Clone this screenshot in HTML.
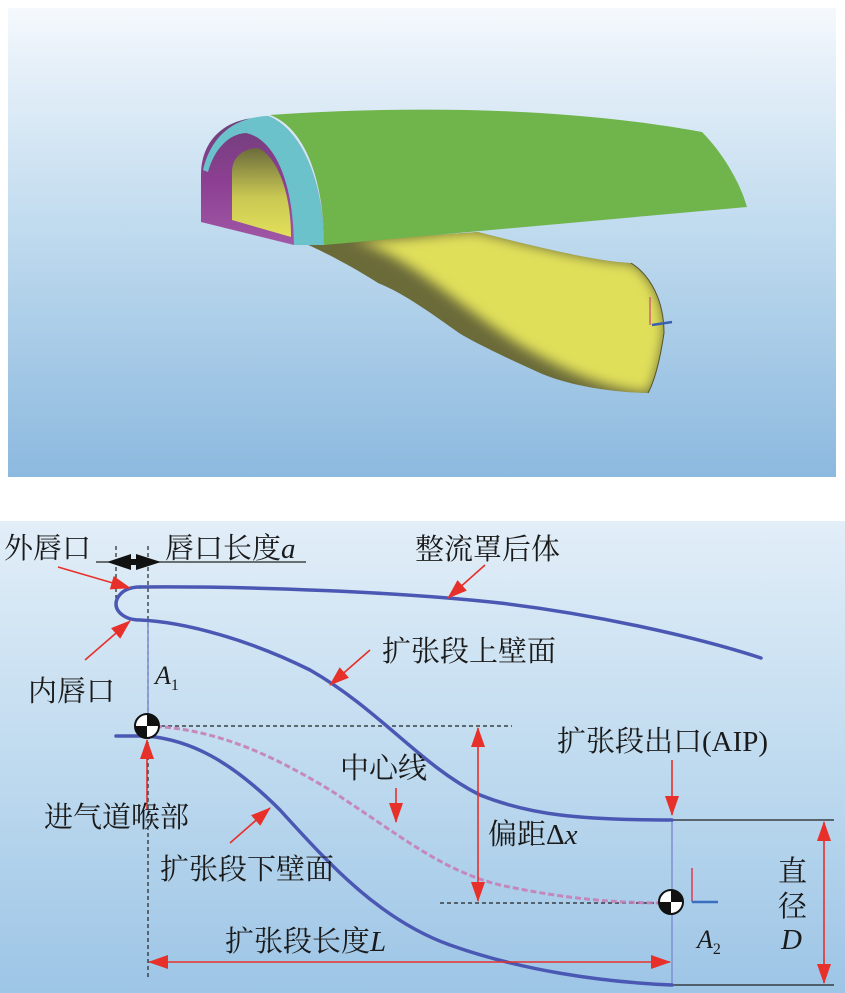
<!DOCTYPE html>
<html><head><meta charset="utf-8"><style>
html,body{margin:0;padding:0;background:#fff;}
svg{display:block;}
.t{font-family:"Liberation Serif","Noto Serif CJK SC",serif;font-size:29px;fill:#1a1a1a;}
.i{font-family:"Liberation Serif",serif;font-style:italic;fill:#1a1a1a;}
</style></head><body>
<svg width="845" height="993" viewBox="0 0 845 993" xmlns="http://www.w3.org/2000/svg">
<defs>
<linearGradient id="bg1" x1="0" y1="0" x2="0" y2="1">
<stop offset="0" stop-color="#f5f9fd"/><stop offset="0.12" stop-color="#e6f0f9"/>
<stop offset="0.45" stop-color="#c2dcef"/><stop offset="1" stop-color="#8cb9df"/></linearGradient>
<linearGradient id="bg2" x1="0" y1="0" x2="0" y2="1">
<stop offset="0" stop-color="#e2eef8"/><stop offset="0.5" stop-color="#c0dbef"/><stop offset="1" stop-color="#9dc5e6"/></linearGradient>
<linearGradient id="inner" x1="0" y1="0" x2="0" y2="1">
<stop offset="0" stop-color="#6b6b3c"/><stop offset="0.55" stop-color="#c9c853"/><stop offset="1" stop-color="#e2e05a"/></linearGradient>
<linearGradient id="purp" x1="0" y1="0" x2="0" y2="1">
<stop offset="0" stop-color="#6e3f78"/><stop offset="0.5" stop-color="#8c3f92"/><stop offset="1" stop-color="#a158a6"/></linearGradient>
<filter id="bl"><feGaussianBlur stdDeviation="6"/></filter>
<marker id="ar" viewBox="0 0 20 14" refX="19" refY="7" markerWidth="22" markerHeight="14" markerUnits="userSpaceOnUse" orient="auto-start-reverse"><path d="M0,0 L20,7 L0,14 Z" fill="#e8302b"/></marker>
</defs>

<!-- top panel -->
<rect x="8" y="8" width="828" height="469" fill="url(#bg1)"/>
<clipPath id="dc"><path d="M306,244 L478,232 C540,248 600,262 631,263 C650,275 664,300 664,333 C660,360 655,380 648,393 C600,392 560,382 540,373 C500,355 470,340 459,333 C420,305 400,292 378,283 C350,265 320,250 306,244 Z"/></clipPath>
<g clip-path="url(#dc)">
<rect x="300" y="220" width="380" height="180" fill="#6b6b3a"/>
<path d="M350,240 C400,242 440,232 478,232 C540,248 600,262 631,263 C650,275 664,300 664,333 C660,360 655,380 648,393 C600,388 560,368 520,345 C450,300 405,252 350,240 Z" fill="#e0df5a" filter="url(#bl)"/>
</g>
<path d="M631,263 C650,275 664,300 664,333 C660,360 655,380 648,393" fill="none" stroke="#55552e" stroke-width="1"/>
<line x1="650" y1="297" x2="650" y2="325" stroke="#d0607a" stroke-width="1.5"/>
<path d="M652,325 L672,322" stroke="#3a5fb0" stroke-width="2.5"/>
<path d="M201,222 L201,175 C201,140 225,120 255,118 L268,116 C300,128 324,180 324,245 L294,245 Z" fill="url(#purp)"/>
<path d="M203,170 C212,132 238,117 268,116 C300,128 324,180 324,245 L294,245 C294,190 278,140 246,133 C228,134 214,150 208,172 Z" fill="#6bc2ca"/>
<path d="M232,220 L232,172 C232,156 245,148 258,148 C276,156 291,190 291,237 Z" fill="url(#inner)"/>
<path d="M270,115 C400,106 560,106 702,132 C722,152 740,182 747,207 L324,245 C324,180 305,128 270,115 Z" fill="#70b44c"/>

<!-- bottom panel -->
<rect x="0" y="521" width="845" height="472" fill="url(#bg2)"/>

<g stroke="#222" stroke-width="1.2" stroke-dasharray="4,3" fill="none">
<line x1="148" y1="546" x2="148" y2="977"/>
<line x1="116" y1="546" x2="116" y2="600"/>
<line x1="147" y1="726" x2="512" y2="726"/>
<line x1="440" y1="903" x2="670" y2="903"/>
</g>
<line x1="148" y1="620" x2="148" y2="716" stroke="#7f8fd0" stroke-width="1.5"/>
<line x1="672" y1="820" x2="672" y2="986" stroke="#7f8fd0" stroke-width="1.5"/>
<line x1="672" y1="820" x2="834" y2="820" stroke="#222" stroke-width="1.3"/>
<line x1="672" y1="985" x2="834" y2="985" stroke="#222" stroke-width="1.3"/>
<line x1="96" y1="562" x2="306" y2="562" stroke="#222" stroke-width="1.3"/>
<rect x="128" y="559" width="10" height="6" fill="#111"/>
<path d="M107,562 L131,554 L131,570 Z" fill="#111"/>
<path d="M161,562 L136,554 L136,570 Z" fill="#111"/>

<path d="M147,726 C220,728 280,760 330,790 C400,835 440,870 500,885 C570,900 620,903 669,903" fill="none" stroke="#c77ab4" stroke-width="3" stroke-dasharray="6,3" opacity="0.85"/>
<g fill="none" stroke="#4b58b3" stroke-width="3.5" stroke-linecap="round">
<path d="M140,587 C250,586 400,592 500,603 C600,615 700,638 761,658"/>
<path d="M140,587 C122,587 116,598 116,604 C116,612 125,620 140,620 C185,622 250,640 310,670 C380,710 420,765 480,795 C530,815 580,820 672,820"/>
<path d="M116,736 L147,736 C190,740 230,760 280,810 C330,865 380,920 450,945 C520,970 600,982 672,985"/>
</g>

<circle cx="147" cy="726" r="12" fill="#fff" stroke="#111" stroke-width="2"/>
<path d="M147,714 A12,12 0 0 1 159,726 L147,726 Z M147,738 A12,12 0 0 1 135,726 L147,726 Z" fill="#111"/>
<circle cx="671" cy="902" r="12" fill="#fff" stroke="#111" stroke-width="2"/>
<path d="M671,890 A12,12 0 0 1 683,902 L671,902 Z M671,914 A12,12 0 0 1 659,902 L671,902 Z" fill="#111"/>
<line x1="692" y1="868" x2="692" y2="902" stroke="#d0607a" stroke-width="2"/>
<line x1="692" y1="902" x2="718" y2="902" stroke="#3a6fc0" stroke-width="2.5"/>

<g stroke="#e8302b" stroke-width="1.6" fill="none">
<line x1="58" y1="567" x2="130" y2="588" marker-end="url(#ar)"/>
<line x1="85" y1="660" x2="130" y2="621" marker-end="url(#ar)"/>
<line x1="485" y1="565" x2="448" y2="598" marker-end="url(#ar)"/>
<line x1="370" y1="650" x2="330" y2="685" marker-end="url(#ar)"/>
<line x1="147" y1="810" x2="147" y2="740" marker-end="url(#ar)"/>
<line x1="396" y1="788" x2="396" y2="822" marker-end="url(#ar)"/>
<line x1="230" y1="843" x2="270" y2="808" marker-end="url(#ar)"/>
<line x1="672" y1="760" x2="672" y2="815" marker-end="url(#ar)"/>
<line x1="478" y1="728" x2="478" y2="901" marker-start="url(#ar)" marker-end="url(#ar)"/>
<line x1="824" y1="822" x2="824" y2="983" marker-start="url(#ar)" marker-end="url(#ar)"/>
<line x1="149" y1="962" x2="670" y2="962" marker-start="url(#ar)" marker-end="url(#ar)"/>
</g>

<text class="t" x="4" y="558">外唇口</text>
<text class="t" x="165" y="558">唇口长度<tspan class="i">a</tspan></text>
<text class="t" x="415" y="559">整流罩后体</text>
<text class="t" x="382" y="661">扩张段上壁面</text>
<text class="t" x="28" y="701">内唇口</text>
<text class="i" x="155" y="684" font-size="26">A<tspan font-size="16" font-style="normal" dy="6">1</tspan></text>
<text class="t" x="557" y="751">扩张段出口(AIP)</text>
<text class="t" x="340" y="778">中心线</text>
<text class="t" x="44" y="827">进气道喉部</text>
<text class="t" x="488" y="844">偏距Δ<tspan class="i">x</tspan></text>
<text class="t" x="160" y="879">扩张段下壁面</text>
<text class="t" x="225" y="951">扩张段长度<tspan class="i">L</tspan></text>
<text class="t" x="778" y="881">直</text>
<text class="t" x="778" y="916">径</text>
<text class="i" x="781" y="949" font-size="29">D</text>
<text class="i" x="697" y="948" font-size="26">A<tspan font-size="16" font-style="normal" dy="6">2</tspan></text>
</svg>
</body></html>
